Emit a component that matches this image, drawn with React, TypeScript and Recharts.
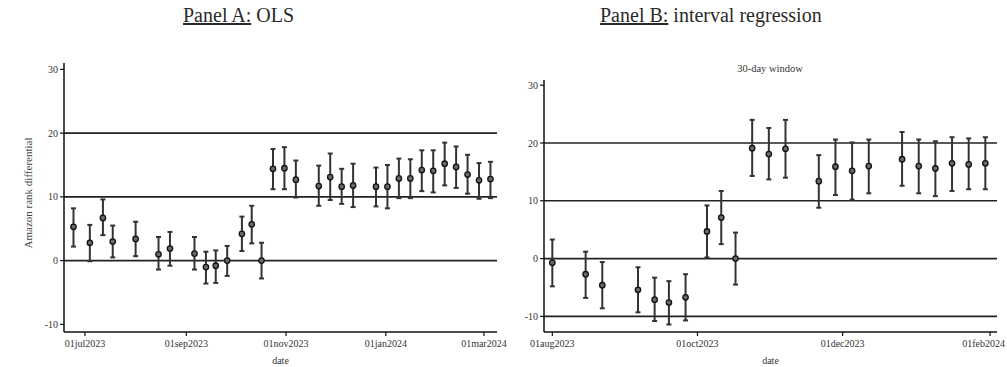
import React from 'react';
import { ComposedChart, Scatter, ErrorBar, XAxis, YAxis, ReferenceLine } from 'recharts';

// ---------- Panel A: OLS ----------
const olsDates = [
  '2023-06-24', '2023-07-04', '2023-07-12', '2023-07-18', '2023-08-01', '2023-08-15', '2023-08-22',
  '2023-09-06', '2023-09-13', '2023-09-19', '2023-09-26', '2023-10-05', '2023-10-11', '2023-10-17',
  '2023-10-24', '2023-10-31', '2023-11-07', '2023-11-21', '2023-11-28', '2023-12-05', '2023-12-12',
  '2023-12-26', '2024-01-02', '2024-01-09', '2024-01-16', '2024-01-23', '2024-01-30', '2024-02-06',
  '2024-02-13', '2024-02-20', '2024-02-27', '2024-03-05',
];
const olsEst = [5.3, 2.8, 6.7, 3.0, 3.4, 1.0, 1.9, 1.1, -1.0, -0.8, 0.0, 4.2, 5.7, 0.0, 14.4, 14.5, 12.7, 11.7, 13.1, 11.6, 11.8, 11.6, 11.6, 12.9, 12.9, 14.2, 14.1, 15.2, 14.7, 13.5, 12.6, 12.8];
const olsLow = [2.2, -0.1, 4.0, 0.5, 0.7, -1.4, -0.8, -1.4, -3.6, -3.5, -2.4, 1.5, 2.7, -2.8, 11.2, 11.2, 9.9, 8.6, 9.5, 8.9, 8.4, 8.5, 8.2, 9.8, 9.8, 10.9, 10.7, 11.8, 11.4, 10.5, 9.7, 9.8];
const olsHigh = [8.2, 5.6, 9.6, 5.5, 6.1, 3.7, 4.5, 3.7, 1.4, 1.6, 2.3, 6.9, 8.6, 2.8, 17.5, 17.8, 15.7, 14.9, 16.8, 14.4, 15.2, 14.6, 15.0, 16.0, 15.9, 17.3, 17.3, 18.5, 17.9, 16.6, 15.3, 15.5];
const olsTickDates = ['2023-07-01', '2023-09-01', '2023-11-01', '2024-01-01', '2024-03-01'];
const olsTickLabels = ['01jul2023', '01sep2023', '01nov2023', '01jan2024', '01mar2024'];
const olsRefLines = [0, 10, 20];

// ---------- Panel B: interval regression ----------
const intDates = [
  '2023-08-01', '2023-08-15', '2023-08-22', '2023-09-06', '2023-09-13', '2023-09-19', '2023-09-26',
  '2023-10-05', '2023-10-11', '2023-10-17', '2023-10-24', '2023-10-31', '2023-11-07', '2023-11-21',
  '2023-11-28', '2023-12-05', '2023-12-12', '2023-12-26', '2024-01-02', '2024-01-09', '2024-01-16',
  '2024-01-23', '2024-01-30',
];
const intEst = [-0.7, -2.7, -4.6, -5.4, -7.1, -7.6, -6.7, 4.7, 7.1, 0.0, 19.1, 18.1, 19.0, 13.4, 15.9, 15.2, 16.0, 17.2, 16.0, 15.6, 16.5, 16.3, 16.5];
const intLow = [-4.8, -6.8, -8.6, -9.3, -10.8, -11.4, -10.7, 0.2, 2.5, -4.5, 14.3, 13.7, 14.0, 8.8, 11.0, 10.2, 11.3, 12.6, 11.3, 10.8, 11.7, 12.0, 12.0];
const intHigh = [3.3, 1.2, -0.6, -1.5, -3.3, -3.9, -2.7, 9.2, 11.7, 4.5, 24.0, 22.6, 24.0, 17.9, 20.6, 20.1, 20.6, 21.9, 20.6, 20.3, 21.0, 20.8, 21.0];
const intTickDates = ['2023-08-01', '2023-10-01', '2023-12-01', '2024-02-01'];
const intTickLabels = ['01aug2023', '01oct2023', '01dec2023', '01feb2024'];
const intRefLines = [-10, 0, 10, 20];

const yTicks = [-10, 0, 10, 20, 30];

const dayNum = (s: string) => {
  const [y, m, d] = s.split('-').map(Number);
  return Date.UTC(y, m - 1, d) / 86400000;
};

const buildRows = (dates: string[], est: number[], low: number[], high: number[]) =>
  dates.map((d, i) => ({ x: dayNum(d), y: est[i], err: [est[i] - low[i], high[i] - est[i]] }));

const olsRows = buildRows(olsDates, olsEst, olsLow, olsHigh);
const intRows = buildRows(intDates, intEst, intLow, intHigh);

const SERIF = '"Liberation Serif", "Times New Roman", serif';
const tickStyle = { fontSize: 10, fill: '#333', fontFamily: SERIF };

const Dot = (props: any) => (
  <circle cx={props.cx} cy={props.cy} r={2.7} fill="#6a6a6a" stroke="#111" strokeWidth={1.3} />
);

type PanelProps = {
  rows: any[];
  tickDates: string[];
  tickLabels: string[];
  refLines: number[];
  domainX: [number, number];
  domainY: [number, number];
  width: number;
  margin: any;
  yWidth: number;
  maxLabelX: number;
};

const Panel = ({ rows, tickDates, tickLabels, refLines, domainX, domainY, width, margin, yWidth, maxLabelX }: PanelProps) => {
  const ticks = tickDates.map(dayNum);
  const fmt = (v: number) => {
    const i = ticks.indexOf(v);
    return i >= 0 ? tickLabels[i] : '';
  };
  const XTick = (props: any) => {
    const { x, y, payload } = props;
    const label = fmt(payload.value);
    const half = label.length * 2.45;
    let anchor: 'middle' | 'end' = 'middle';
    let tx = x;
    if (x + half > maxLabelX) {
      anchor = 'end';
      tx = maxLabelX;
    }
    return (
      <text x={tx} y={y} dy="0.71em" textAnchor={anchor} fontSize={10} fill="#333" fontFamily={SERIF}>
        {label}
      </text>
    );
  };
  return (
    <ComposedChart width={width} height={367} margin={margin}>
      <XAxis
        type="number"
        dataKey="x"
        domain={domainX}
        ticks={ticks}
        allowDataOverflow
        height={35}
        tick={XTick}
        tickSize={4}
        tickMargin={4}
        axisLine={{ stroke: '#111', strokeWidth: 1.5 }}
        tickLine={{ stroke: '#111', strokeWidth: 1.2 }}
        interval={0}
        label={{ value: 'date', position: 'insideBottom', offset: 3, style: { fontSize: 10, fill: '#333', fontFamily: SERIF } }}
      />
      <YAxis
        type="number"
        dataKey="y"
        domain={domainY}
        ticks={yTicks}
        allowDataOverflow
        width={yWidth}
        tick={tickStyle}
        tickSize={4}
        tickMargin={2}
        axisLine={{ stroke: '#111', strokeWidth: 1.5 }}
        tickLine={{ stroke: '#111', strokeWidth: 1.2 }}
        interval={0}
      />
      {refLines.map((v) => (
        <ReferenceLine key={v} y={v} stroke="#222" strokeWidth={1.6} />
      ))}
      <Scatter data={rows} dataKey="y" shape={Dot} isAnimationActive={false}>
        <ErrorBar dataKey="err" direction="y" width={2.5} stroke="#333" strokeWidth={2} />
      </Scatter>
    </ComposedChart>
  );
};

export default function App() {
  const jul1 = dayNum('2023-07-01');
  const aug1 = dayNum('2023-08-01');
  return (
    <div style={{ position: 'absolute', left: 0, top: 0, width: 1007, height: 367, background: '#fff', overflow: 'hidden' }}>
      <div style={{ position: 'absolute', left: 0, top: 0 }}>
        <Panel
          rows={olsRows}
          tickDates={olsTickDates}
          tickLabels={olsTickLabels}
          refLines={olsRefLines}
          domainX={[jul1 - 12.8, jul1 + 252]}
          domainY={[-11.2, 31]}
          width={515}
          margin={{ top: 63, right: 18, bottom: 0, left: 0 }}
          yWidth={64}
          maxLabelX={513}
        />
      </div>
      <div style={{ position: 'absolute', left: 505, top: 0 }}>
        <Panel
          rows={intRows}
          tickDates={intTickDates}
          tickLabels={intTickLabels}
          refLines={intRefLines}
          domainX={[aug1 - 3.5, aug1 + 186.9]}
          domainY={[-12.7, 30.9]}
          width={502}
          margin={{ top: 80, right: 10, bottom: 0, left: 0 }}
          yWidth={39}
          maxLabelX={500}
        />
      </div>
      <svg width={1007} height={367} style={{ position: 'absolute', left: 0, top: 0, pointerEvents: 'none' }}>
        <text
          x={28}
          y={193}
          transform="rotate(-90 28 193)"
          textAnchor="middle"
          dominantBaseline="central"
          fontSize={11}
          fill="#444"
          fontFamily={SERIF}
        >
          Amazon rank differential
        </text>
        <text x={770} y={72} textAnchor="middle" fontSize={10.5} fill="#333" fontFamily={SERIF}>
          30-day window
        </text>
      </svg>
      <div style={{ position: 'absolute', left: 183, top: 5, fontFamily: SERIF, fontSize: 20, lineHeight: '20px', color: '#2a2a2a', whiteSpace: 'nowrap' }}>
        <span style={{ textDecoration: 'underline' }}>Panel A:</span> OLS
      </div>
      <div style={{ position: 'absolute', left: 600, top: 5, fontFamily: SERIF, fontSize: 20, lineHeight: '20px', color: '#2a2a2a', whiteSpace: 'nowrap' }}>
        <span style={{ textDecoration: 'underline' }}>Panel B:</span> interval regression
      </div>
    </div>
  );
}
